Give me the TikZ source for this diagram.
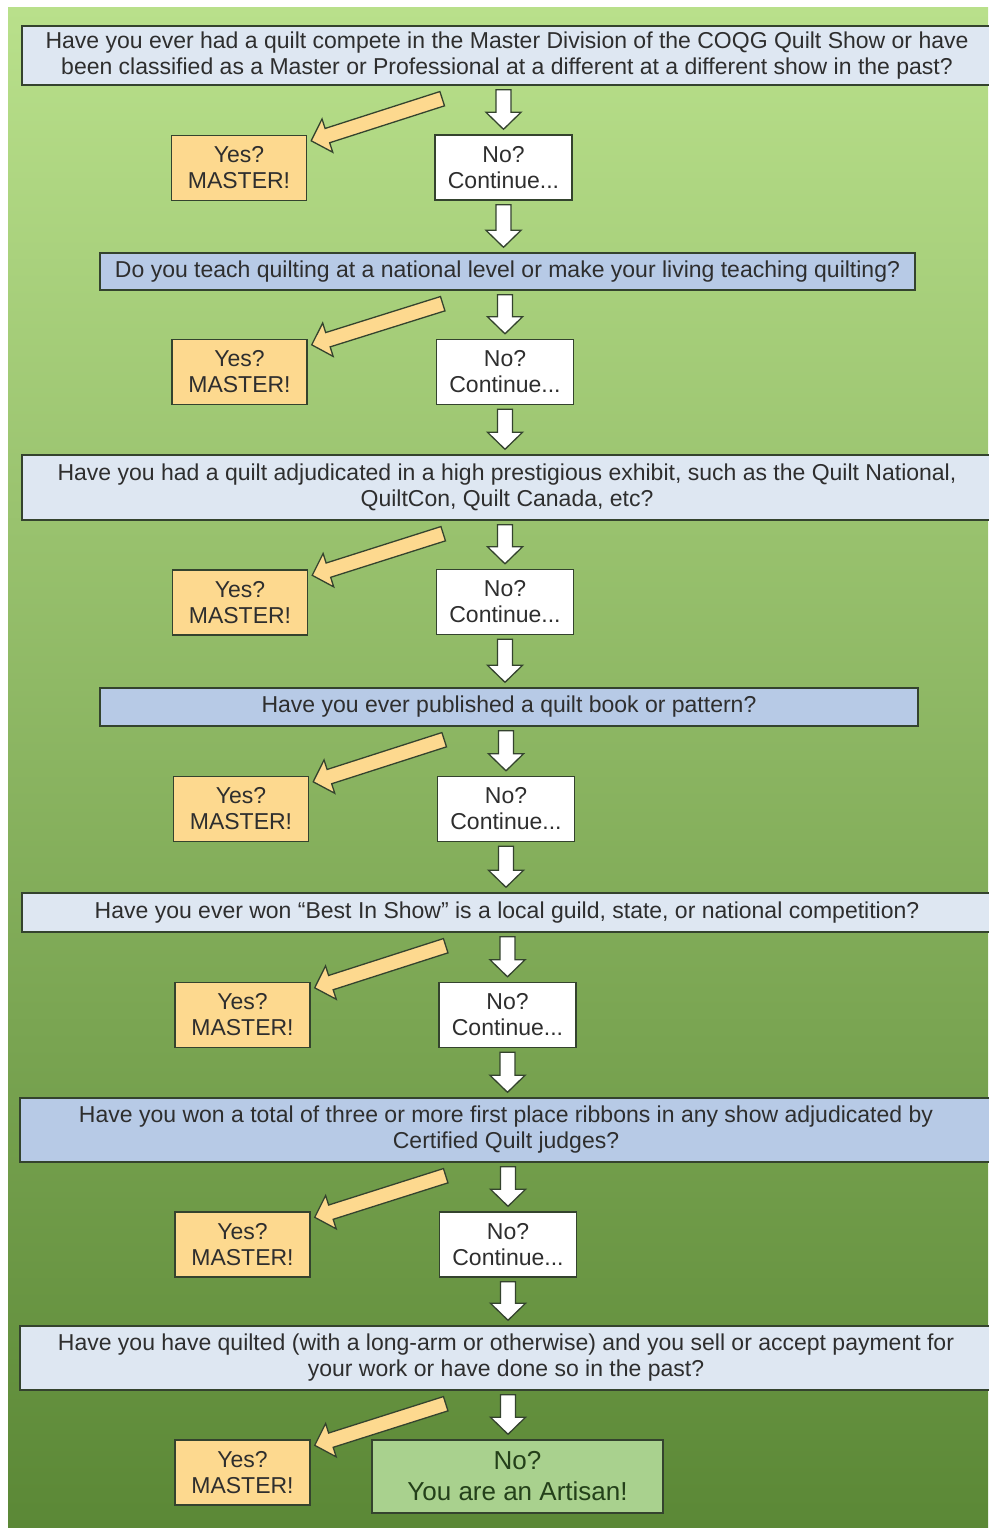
\documentclass[tikz,border=0pt]{standalone}
\usepackage{fontspec}
\setmainfont{Liberation Sans}
\usetikzlibrary{calc}

\definecolor{bgtop}{HTML}{B9E08B}
\definecolor{bgmid}{HTML}{9DC469}
\definecolor{bgbot}{HTML}{5B8836}
\definecolor{qpalefill}{HTML}{DEE7F2}
\definecolor{qbluefill}{HTML}{B7CAE6}
\definecolor{yesfill}{HTML}{FDD98F}
\definecolor{artfill}{HTML}{A9D18E}
\definecolor{boxline}{HTML}{34432E}
\definecolor{txt}{HTML}{2E2E2E}
\definecolor{arttxt}{HTML}{24401A}

\tikzset{
  block arrow/.style 2 args={to path={let \p1=(\tikztostart), \p2=(\tikztotarget),
      \p3=($(\p1)!#1!(\p2)$), \p4=($(\p2)!#2!(\p1)$), \p5=($(\p4)!17pt!(\p3)$) in
      ($(\p3)!7.5pt!90:(\p4)$) -- ($(\p5)!7.5pt!90:(\p4)$) -- ($(\p5)!17.5pt!90:(\p4)$)
      -- (\p4) -- ($(\p5)!17.5pt!-90:(\p4)$) -- ($(\p5)!7.5pt!-90:(\p4)$)
      -- ($(\p3)!7.5pt!-90:(\p4)$) -- cycle}}
}

\begin{document}
\begin{tikzpicture}[x=1pt,y=-1pt,
    box/.style={draw=boxline,line width=1.4pt,inner sep=0pt,align=center,text=txt,
      font=\fontsize{23}{26}\selectfont},
    qpale/.style={box,fill=qpalefill},
    qblue/.style={box,fill=qbluefill},
    yesbox/.style={box,fill=yesfill,minimum width=135pt,minimum height=65pt},
    nobox/.style={box,fill=white,minimum width=137pt,minimum height=65pt},
    artbox/.style={box,fill=artfill,text=arttxt,font=\fontsize{26}{31}\selectfont},
    downarr/.style={draw=boxline,line width=1.3pt,fill=white,block arrow={4pt}{5pt}},
    yesarr/.style={draw=boxline,line width=1.3pt,fill=yesfill,block arrow={0pt}{0pt}}]
  \useasboundingbox (0,0) rectangle (988,1528);
  \shade[top color=bgtop,middle color=bgmid,bottom color=bgbot] (8,8) rectangle (988,1528);

  \node[qpale,minimum width=970pt,minimum height=59pt] (q1) at (507,55.5)
    {Have you ever had a quilt compete in the Master Division of the COQG Quilt Show or have\\
     been classified as a Master or Professional at a different at a different show in the past?};
  \node[yesbox] (yes1) at (239,168) {Yes?\\MASTER!};
  \node[nobox] (no1) at (503.5,167.5) {No?\\Continue...};

  \node[qblue,minimum width=815pt,minimum height=37pt] (q2) at (507.5,271.5)
    {Do you teach quilting at a national level or make your living teaching quilting?};
  \node[yesbox] (yes2) at (239.5,372) {Yes?\\MASTER!};
  \node[nobox] (no2) at (505,372) {No?\\Continue...};

  \node[qpale,minimum width=970pt,minimum height=65pt] (q3) at (507,487.5)
    {Have you had a quilt adjudicated in a high prestigious exhibit, such as the Quilt National,\\
     QuiltCon, Quilt Canada, etc?};
  \node[yesbox] (yes3) at (240,602.5) {Yes?\\MASTER!};
  \node[nobox] (no3) at (505,602) {No?\\Continue...};

  \node[qblue,minimum width=818pt,minimum height=38pt] (q4) at (509,707)
    {Have you ever published a quilt book or pattern?};
  \node[yesbox] (yes4) at (241,809) {Yes?\\MASTER!};
  \node[nobox] (no4) at (506,809) {No?\\Continue...};

  \node[qpale,minimum width=970pt,minimum height=39pt] (q5) at (507,912.5)
    {Have you ever won “Best In Show” is a local guild, state, or national competition?};
  \node[yesbox] (yes5) at (242.5,1015) {Yes?\\MASTER!};
  \node[nobox] (no5) at (507.5,1015) {No?\\Continue...};

  \node[qblue,minimum width=972pt,minimum height=64pt] (q6) at (506,1130)
    {Have you won a total of three or more first place ribbons in any show adjudicated by\\
     Certified Quilt judges?};
  \node[yesbox] (yes6) at (242.5,1244.5) {Yes?\\MASTER!};
  \node[nobox] (no6) at (508,1244.5) {No?\\Continue...};

  \node[qpale,minimum width=972pt,minimum height=64pt] (q7) at (506,1358)
    {Have you have quilted (with a long-arm or otherwise) and you sell or accept payment for\\
     your work or have done so in the past?};
  \node[yesbox] (yes7) at (242.5,1472.5) {Yes?\\MASTER!};
  \node[artbox,minimum width=291pt,minimum height=73pt] (art) at (517.5,1476.5)
    {No?\\You are an Artisan!};

  \path
  (q1.south -| no1.north) edge[downarr] (no1.north)
  ($(q1.south -| yes1.east)+(135,13)$) edge[yesarr] ($(yes1.north east)+(4,6)$)
  (no1.south) edge[downarr] (no1.south |- q2.north)

  (q2.south -| no2.north) edge[downarr] (no2.north)
  ($(q2.south -| yes2.east)+(135,13)$) edge[yesarr] ($(yes2.north east)+(4,6)$)
  (no2.south) edge[downarr] (no2.south |- q3.north)

  (q3.south -| no3.north) edge[downarr] (no3.north)
  ($(q3.south -| yes3.east)+(135,13)$) edge[yesarr] ($(yes3.north east)+(4,6)$)
  (no3.south) edge[downarr] (no3.south |- q4.north)

  (q4.south -| no4.north) edge[downarr] (no4.north)
  ($(q4.south -| yes4.east)+(135,13)$) edge[yesarr] ($(yes4.north east)+(4,6)$)
  (no4.south) edge[downarr] (no4.south |- q5.north)

  (q5.south -| no5.north) edge[downarr] (no5.north)
  ($(q5.south -| yes5.east)+(135,13)$) edge[yesarr] ($(yes5.north east)+(4,6)$)
  (no5.south) edge[downarr] (no5.south |- q6.north)

  (q6.south -| no6.north) edge[downarr] (no6.north)
  ($(q6.south -| yes6.east)+(135,13)$) edge[yesarr] ($(yes6.north east)+(4,6)$)
  (no6.south) edge[downarr] (no6.south |- q7.north)

  (q7.south -| no6.north) edge[downarr] (no6.north |- art.north)
  ($(q7.south -| yes7.east)+(135,13)$) edge[yesarr] ($(yes7.north east)+(4,6)$)
  ;
\end{tikzpicture}
\end{document}
